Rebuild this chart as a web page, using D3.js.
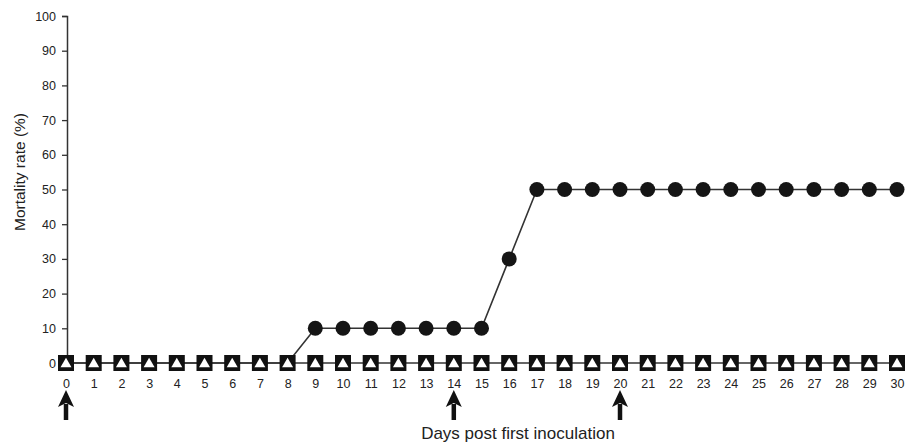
<!DOCTYPE html>
<html>
<head>
<meta charset="utf-8">
<script src="https://cdn.jsdelivr.net/npm/d3@7"></script>
<style>
body { margin: 0; background: #fff; }
text { font-family: "Liberation Sans", Arial, sans-serif; fill: #222; }
</style>
</head>
<body>
<svg id="svg"></svg>
<script>
// days 0..30
var days = d3.range(0, 31);
var circleSeries = [0,0,0,0,0,0,0,0,0,10,10,10,10,10,10,10,30,50,50,50,50,50,50,50,50,50,50,50,50,50,50];
var squareSeries = days.map(function() { return 0; });
var triangleSeries = days.map(function() { return 0; });
var yTicks = [0,10,20,30,40,50,60,70,80,90,100];
var arrowDays = [0, 14, 20];

var width = 917, height = 444;
var svg = d3.select("#svg").attr("width", width).attr("height", height);

var x = d3.scaleLinear().domain([0, 30]).range([66, 897]);
var y = d3.scaleLinear().domain([0, 100]).range([363, 16]);

// y axis
var yAxis = d3.axisLeft(y).tickValues(yTicks).tickSize(5).tickPadding(6);
var yg = svg.append("g").attr("transform", "translate(67,0)").call(yAxis);
yg.select(".domain").attr("stroke", "#333").attr("stroke-width", 1.5);
yg.selectAll(".tick line").attr("stroke", "#333").attr("stroke-width", 1.3);
yg.selectAll(".tick text").style("font-size", "12.5px").attr("fill", "#222");

// x tick labels only
var xAxis = d3.axisBottom(x).tickValues(days).tickSize(0).tickPadding(0);
var xg = svg.append("g").attr("transform", "translate(0,379)").call(xAxis);
xg.select(".domain").remove();
xg.selectAll(".tick text").style("font-size", "12.5px").attr("fill", "#222");

svg.append("text")
    .attr("transform", "translate(25,172) rotate(-90)")
    .attr("text-anchor", "middle")
    .style("font-size", "15.5px")
    .text("Mortality rate (%)");

svg.append("text")
    .attr("x", 518).attr("y", 439)
    .attr("text-anchor", "middle")
    .style("font-size", "17px")
    .text("Days post first inoculation");

var line = d3.line()
    .x(function(d, i) { return x(days[i]); })
    .y(function(d) { return y(d); });

svg.append("path").datum(circleSeries).attr("d", line)
    .attr("fill", "none").attr("stroke", "#333").attr("stroke-width", 1.6);
svg.append("path").datum(squareSeries).attr("d", line)
    .attr("fill", "none").attr("stroke", "#333").attr("stroke-width", 1.6);

svg.selectAll("circle.mort").data(circleSeries).enter().append("circle")
    .attr("class", "mort")
    .attr("cx", function(d, i) { return x(days[i]); })
    .attr("cy", function(d) { return y(d); })
    .attr("r", 7.5)
    .attr("fill", "#151515");

var sq = 16;
svg.selectAll("rect.sq").data(squareSeries).enter().append("rect")
    .attr("class", "sq")
    .attr("x", function(d, i) { return x(days[i]) - sq / 2; })
    .attr("y", function(d) { return y(d) - sq / 2; })
    .attr("width", sq).attr("height", sq)
    .attr("fill", "#111");

var tri = d3.symbol().type(d3.symbolTriangle).size(52);
svg.selectAll("path.tri").data(triangleSeries).enter().append("path")
    .attr("class", "tri")
    .attr("d", tri)
    .attr("transform", function(d, i) { return "translate(" + x(days[i]) + "," + (y(d) + 1) + ")"; })
    .attr("fill", "#fff");

// arrows under inoculation days
var arrows = svg.selectAll("g.arrow").data(arrowDays).enter().append("g")
    .attr("class", "arrow")
    .attr("transform", function(d) { return "translate(" + x(d) + ",0)"; });
arrows.append("line")
    .attr("x1", 0).attr("x2", 0).attr("y1", 404).attr("y2", 420)
    .attr("stroke", "#111").attr("stroke-width", 4.5);
arrows.append("path")
    .attr("d", "M0,390 L-8,407 L0,403 L8,407 Z")
    .attr("fill", "#111");
</script>
</body>
</html>
